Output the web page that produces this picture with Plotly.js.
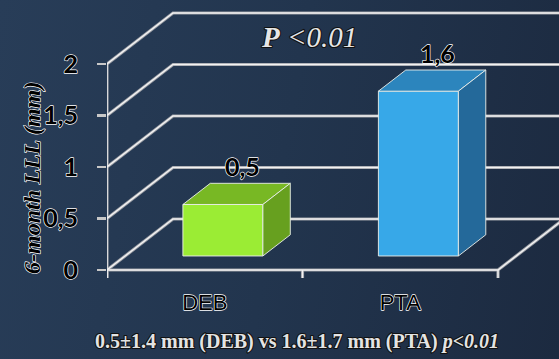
<!DOCTYPE html>
<html><head><meta charset="utf-8">
<script src="https://cdn.plot.ly/plotly-3.0.1.min.js"></script>
<style>
html,body{margin:0;padding:0;width:559px;height:359px;overflow:hidden;
background:linear-gradient(100deg,#283d58 0%,#22354e 50%,#1c2a40 100%);}
#chart{width:559px;height:359px;}
.ytick text, .xtick text,
.annotation[data-index="0"] text, .annotation[data-index="1"] text, .annotation[data-index="4"] text {
  stroke:#ffffff; stroke-width:1.3px; paint-order:stroke fill; stroke-linejoin:round;
}
.annotation[data-index="2"] text, .annotation[data-index="3"] text {
  stroke:#111111; stroke-width:2.2px; paint-order:stroke fill; stroke-linejoin:round;
}
</style>
</head><body><div id="chart"></div>
<script>
// ---- data ----
const categories = ['DEB', 'PTA'];
const values = [0.5, 1.6];
const valueLabels = ['0,5', '1,6'];
const yTickValues = [0, 0.5, 1, 1.5, 2];
const yTickLabels = ['0', '0,5', '1', '1,5', '2'];
const pText = '<b>P</b> &lt;0.01';
const footText = '0.5±1.4 mm (DEB) vs 1.6±1.7 mm (PTA) <i>p&lt;0.01</i>';
const yTitle = '6-month LLL (mm)';

// ---- styles / geometry ----
const frontColors = ['#9bec34', '#37a8e8'];
const topColors = ['#78b824', '#2c85bd'];
const sideColors = ['#67a01f', '#24699a'];
const PXX = 195.5, PXY = 103;           // pixels per data unit
const M = {l: 107, r: 0, t: 5, b: 74};
const plotW = 559 - M.l - M.r, plotH = 359 - M.t - M.b;
const XMIN = -0.5, XMAX = XMIN + plotW / PXX;
const YMIN = -(285 - 270) / PXY, YMAX = YMIN + plotH / PXY;
const DX = 66 / PXX, DY = 51 / PXY;       // oblique depth offset
const W = 80 / PXX;                       // bar width
const D0 = 0.275, D1 = 0.69;              // bar depth fractions
const TICK = 8 / PXY;

const traces = [];

// grid lines on left + back walls
const gx = [], gy = [];
yTickValues.forEach(v => {
  gx.push(XMIN, XMIN + DX, XMAX, null);
  gy.push(v, v + DY, v + DY, null);
});
// front vertical axis line
gx.push(XMIN, XMIN, null); gy.push(-TICK, yTickValues[yTickValues.length - 1], null);
// floor front edge + right edge
gx.push(XMIN, categories.length - 0.5, categories.length - 0.5 + DX * 1.5, null);
gy.push(0, 0, DY * 1.5, null);
// floor ticks
for (let k = 0; k <= categories.length; k++) {
  gx.push(k - 0.5, k - 0.5, null); gy.push(0, -TICK, null);
}
traces.push({x: gx, y: gy, mode: 'lines', line: {color: '#9c9fa6', width: 3.2}, hoverinfo: 'skip', showlegend: false});
traces.push({x: gx, y: gy, mode: 'lines', line: {color: '#f2f2f2', width: 1.4}, hoverinfo: 'skip', showlegend: false});

// 3D bars
const bx = (D1 - D0) * DX, by = (D1 - D0) * DY;
const edge = {color: 'rgba(235,240,235,0.9)', width: 1};
categories.forEach((c, i) => {
  const v = values[i];
  const x0 = i - W / 2 + D0 * DX, x1 = i + W / 2 + D0 * DX;
  const yb = D0 * DY, yt = v + D0 * DY;
  traces.push({x: [x0, x1, x1, x0, x0], y: [yb, yb, yt, yt, yb], mode: 'lines', fill: 'toself',
    fillcolor: frontColors[i], line: edge, hoverinfo: 'skip', showlegend: false});
  traces.push({x: [x0, x1, x1 + bx, x0 + bx, x0], y: [yt, yt, yt + by, yt + by, yt], mode: 'lines', fill: 'toself',
    fillcolor: topColors[i], line: edge, hoverinfo: 'skip', showlegend: false});
  traces.push({x: [x1, x1 + bx, x1 + bx, x1, x1], y: [yb, yb + by, yt + by, yt, yb], mode: 'lines', fill: 'toself',
    fillcolor: sideColors[i], line: edge, hoverinfo: 'skip', showlegend: false});
});

const annotations = categories.map((c, i) => ({
  x: i + D0 * DX + 0.7 * bx, y: values[i] + D1 * DY, xref: 'x', yref: 'y',
  text: valueLabels[i], showarrow: false, yanchor: 'bottom', xanchor: 'center',
  font: {family: 'Lato', size: 25, weight: 'bold', color: '#000000'}
}));
annotations.push({
  xref: 'paper', yref: 'paper', x: (309 - M.l) / plotW, y: (285 - 37) / plotH,
  text: '<i>' + pText + '</i>', showarrow: false, xanchor: 'center', yanchor: 'middle',
  font: {family: 'Liberation Serif', size: 29, color: '#e6e6e6'}
});
annotations.push({
  xref: 'paper', yref: 'paper', x: (297 - M.l) / plotW, y: (285 - 341) / plotH,
  text: '<b>' + footText + '</b>', showarrow: false, xanchor: 'center', yanchor: 'middle',
  font: {family: 'Liberation Serif', size: 20, color: '#e4e4e4'}
});
annotations.push({
  xref: 'paper', yref: 'paper', x: 0, xshift: -75, y: (285 - 178) / plotH,
  text: '<b><i>' + yTitle + '</i></b>', textangle: -90, showarrow: false,
  xanchor: 'center', yanchor: 'middle',
  font: {family: 'Liberation Serif', size: 24, color: '#000000'}
});

const layout = {
  width: 559, height: 359, margin: M,
  paper_bgcolor: 'rgba(0,0,0,0)', plot_bgcolor: 'rgba(0,0,0,0)',
  showlegend: false,
  xaxis: {range: [XMIN, XMAX], tickvals: categories.map((c, i) => i), ticktext: categories,
    showgrid: false, zeroline: false, showline: false, ticks: '', ticklabelstandoff: 2,
    tickfont: {family: 'Liberation Sans', size: 22, color: '#000000'}, fixedrange: true},
  yaxis: {range: [YMIN, YMAX], tickvals: yTickValues, ticktext: yTickLabels,
    showgrid: false, zeroline: false, showline: false, ticks: 'outside', ticklen: 9, tickwidth: 2.5,
    tickcolor: '#c8c8c8', ticklabelstandoff: 14,
    tickfont: {family: 'Lato', size: 25, weight: 'bold', color: '#000000'}, fixedrange: true},
  annotations: annotations
};
Plotly.newPlot('chart', traces, layout, {displayModeBar: false, staticPlot: true});
</script>
</body></html>
